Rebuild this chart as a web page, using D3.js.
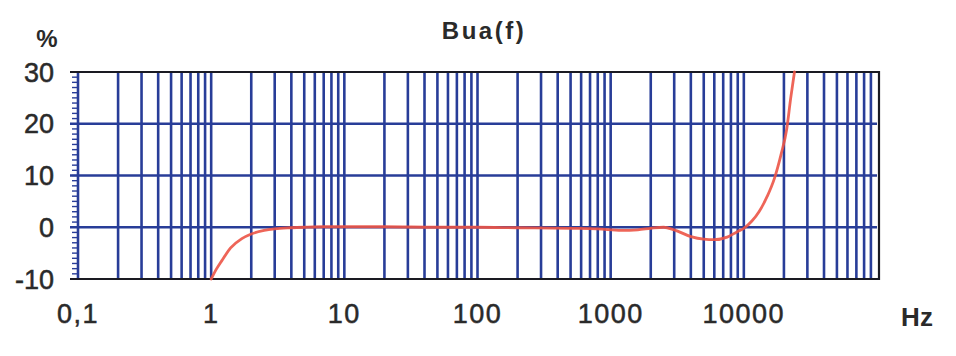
<!DOCTYPE html>
<html>
<head>
<meta charset="utf-8">
<script src="https://cdn.jsdelivr.net/npm/d3@7"></script>
<style>
  body { margin: 0; background: #fff; }
  text { font-family: "Liberation Sans", Arial, sans-serif; fill: #2a2a2a; }
</style>
</head>
<body>
<svg id="chart" width="956" height="356"></svg>
<script>
// frequency response of Bua
const freqs = [1, 1.1, 1.2, 1.4, 1.7, 2, 2.5, 3, 4, 5, 7, 10, 20, 50, 100, 200, 500, 800,
  1200, 1600, 2000, 2500, 3000, 4000, 5000, 6000, 7500, 9000, 10000, 11500, 13000,
  15000, 17000, 19000, 21000, 22500, 24000];
const pct = [-10, -8, -6.5, -4, -2.2, -1.3, -0.6, -0.3, -0.1, 0, 0.1, 0.1, 0.1, 0, 0, -0.1,
  -0.2, -0.3, -0.6, -0.5, -0.2, 0, -0.5, -1.8, -2.3, -2.4, -1.9, -0.8, -0.2, 1.2, 3,
  6, 9.5, 14, 19, 25, 30];

const xTickLabels = ["0,1", "1", "10", "100", "1000", "10000"];
const xTickValues = [0.1, 1, 10, 100, 1000, 10000];
const yTickValues = [-10, 0, 10, 20, 30];

const svg = d3.select("#chart");
const blue = "#283d98";

const x = d3.scaleLog().domain([0.1, 100000]).range([78, 877]);
const y = d3.scaleLinear().domain([-10, 30]).range([279, 72]);

// vertical log grid: 2..9 in each decade, plus the decades
const vLines = [];
for (let e = -1; e < 5; e++) {
  for (let m = 1; m < 10; m++) {
    const v = m * Math.pow(10, e);
    if (v > 0.1) vLines.push(v);
  }
}

const grid = svg.append("g");

grid.selectAll("line.v")
  .data(vLines)
  .join("line")
  .attr("class", "v")
  .attr("x1", d => x(d)).attr("x2", d => x(d))
  .attr("y1", y(30)).attr("y2", y(-10))
  .attr("stroke", blue)
  .attr("stroke-width", 2.6);

// minor ticks on the left side every 1 %
grid.selectAll("line.minor")
  .data(d3.range(-10, 31, 1))
  .join("line")
  .attr("class", "minor")
  .attr("x1", x(0.1) - 6).attr("x2", x(0.1))
  .attr("y1", d => y(d)).attr("y2", d => y(d))
  .attr("stroke", blue)
  .attr("stroke-width", 1.4);

grid.selectAll("line.h")
  .data([0, 10, 20])
  .join("line")
  .attr("class", "h")
  .attr("x1", x(0.1) - 8).attr("x2", x(100000))
  .attr("y1", d => y(d)).attr("y2", d => y(d))
  .attr("stroke", blue)
  .attr("stroke-width", 2.6);

// left border blue, rest of the frame dark
grid.append("line")
  .attr("x1", x(0.1)).attr("x2", x(0.1))
  .attr("y1", y(30)).attr("y2", y(-10))
  .attr("stroke", blue).attr("stroke-width", 2.6);

svg.append("path")
  .attr("d", d3.line()([[x(0.1) - 8, y(30)], [x(100000) + 2, y(30)], [x(100000) + 2, y(-10)], [x(0.1) - 8, y(-10)]]))
  .attr("fill", "none")
  .attr("stroke", "#1a1a22")
  .attr("stroke-width", 2.2);

// the response curve
const line = d3.line()
  .x((d, i) => x(freqs[i]))
  .y(d => y(d))
  .curve(d3.curveMonotoneX);

svg.append("path")
  .datum(pct)
  .attr("d", line)
  .attr("fill", "none")
  .attr("stroke", "#ec5446")
  .attr("stroke-opacity", 0.9)
  .attr("stroke-width", 2.8)
  .attr("stroke-linecap", "round");

// axis labels
svg.append("g")
  .selectAll("text")
  .data(yTickValues)
  .join("text")
  .attr("x", 54)
  .attr("y", d => y(d))
  .attr("dy", "0.36em")
  .attr("text-anchor", "end")
  .attr("font-size", 27)
  .attr("stroke", "#2a2a2a")
  .attr("stroke-width", 0.5)
  .text(d => d);

svg.append("g")
  .selectAll("text")
  .data(xTickValues)
  .join("text")
  .attr("x", d => x(d))
  .attr("y", 323)
  .attr("text-anchor", "middle")
  .attr("font-size", 27)
  .attr("letter-spacing", 1.5)
  .attr("stroke", "#2a2a2a")
  .attr("stroke-width", 0.5)
  .text((d, i) => xTickLabels[i]);

svg.append("text")
  .attr("x", 484).attr("y", 39)
  .attr("text-anchor", "middle")
  .attr("font-size", 24)
  .attr("font-weight", "bold")
  .attr("letter-spacing", 2.5)
  .text("Bua(f)");

svg.append("text")
  .attr("x", 47).attr("y", 47)
  .attr("text-anchor", "middle")
  .attr("font-size", 24)
  .attr("font-weight", "bold")
  .text("%");

svg.append("text")
  .attr("x", 917).attr("y", 326)
  .attr("text-anchor", "middle")
  .attr("font-size", 26)
  .attr("font-weight", "bold")
  .text("Hz");
</script>
</body>
</html>
